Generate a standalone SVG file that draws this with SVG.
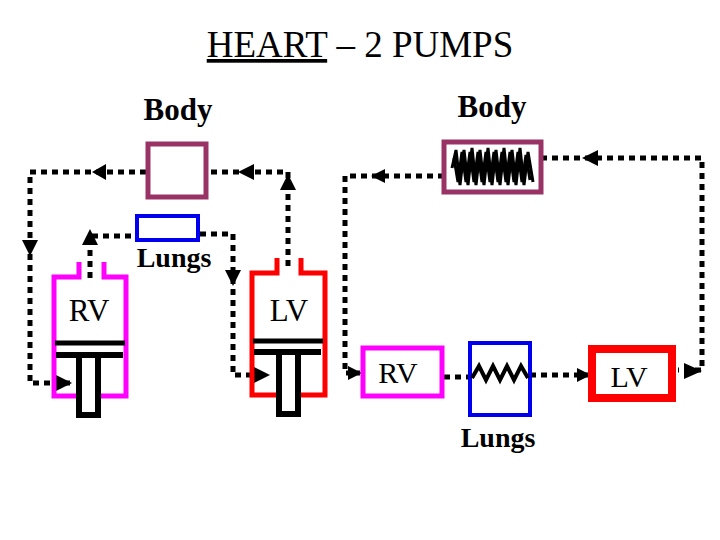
<svg xmlns="http://www.w3.org/2000/svg" width="720" height="540" viewBox="0 0 720 540">
<style>
text{font-family:"Liberation Serif","Times New Roman",serif;fill:#000}
.b{font-weight:bold}
.d{fill:none;stroke:#000;stroke-width:5;stroke-dasharray:6,5}
.ah{fill:#000}
.body{fill:#fff;stroke:#993366;stroke-width:5}
.lung{fill:#fff;stroke:#0000ee;stroke-width:4}
.pis{fill:none;stroke:#000;stroke-width:6}
.zz{fill:none;stroke:#000;stroke-width:3}
</style>
<rect width="720" height="540" fill="#fff"/>
<g id="title"><text x="360" y="57" font-size="37" text-anchor="middle"><tspan text-decoration="underline">HEART</tspan> – 2 PUMPS</text></g>
<g id="connectors">
<polyline class="d" points="146,172 30,172 30,383 70,383"/>
<polyline class="d" points="90,278 90,236 137,236"/>
<polyline class="d" points="200,234 233,234 233,375 266,375"/>
<polyline class="d" points="288,266 288,172 208,172"/>
<polyline class="d" points="444,176 345,176 345,373 360,373"/>
<polyline class="d" points="541,158 702,158 702,370 678,370"/>
<polyline class="d" points="444,377 472,377"/>
<polyline class="d" points="530,375 588,375"/>
<polygon class="ah" points="92,172 106,164 106,180"/>
<polygon class="ah" points="30,256 22,240 38,240"/>
<polygon class="ah" points="72,383 56,375 56,391"/>
<polygon class="ah" points="90,229 82,245 98,245"/>
<polygon class="ah" points="233,286 225,270 241,270"/>
<polygon class="ah" points="270,375 254,367 254,383"/>
<polygon class="ah" points="288,174 280,190 296,190"/>
<polygon class="ah" points="238,172 254,164 254,180"/>
<polygon class="ah" points="371,176 385,169 385,183"/>
<polygon class="ah" points="362,373 348,366 348,380"/>
<polygon class="ah" points="582,158 598,150 598,166"/>
<polygon class="ah" points="702,371 684,363 684,379"/>
<polygon class="ah" points="591,375 577,368 577,382"/>
</g>
<g id="body1"><rect class="body" x="148" y="144" width="58" height="53"/><text class="b" x="178" y="120" font-size="31" text-anchor="middle">Body</text></g>
<g id="lungs1"><rect class="lung" x="137" y="216" width="61" height="24"/><text class="b" x="174" y="267" font-size="28" text-anchor="middle">Lungs</text></g>
<g id="rv1">
<path d="M79,262 V277 H54 V396 H77 M100,396 H126 V277 H104 V262" fill="none" stroke="#ff00ff" stroke-width="5"/>
<line x1="55" y1="343" x2="125" y2="343" stroke="#000" stroke-width="5"/>
<path class="pis" d="M56,355 H123 M79,355 V415 H98 V355"/>
<text x="89" y="321" font-size="31" text-anchor="middle">RV</text>
</g>
<g id="lv1">
<path d="M277,258 V273 H252 V395 H277 M300,395 H325 V273 H301 V258" fill="none" stroke="#ff0000" stroke-width="5"/>
<line x1="253" y1="341" x2="323" y2="341" stroke="#000" stroke-width="5"/>
<path class="pis" d="M254,352 H321 M279,352 V414 H298 V352"/>
<text x="289" y="321" font-size="31" text-anchor="middle">LV</text>
</g>
<g id="body2"><rect class="body" x="444" y="142" width="97" height="50"/>
<path class="zz" d="M452,168 L456,150 L460,185 L464,150 L468,185 L472,148 L476,185 L480,150 L484,185 L488,148 L492,185 L496,150 L500,185 L504,148 L508,185 L512,150 L516,185 L520,148 L524,185 L528,152 L533,182"/>
<path class="zz" d="M454,158 L458,182 L462,152 L466,182 L470,152 L474,182 L478,152 L482,182 L486,152 L490,182 L494,152 L498,182 L502,152 L506,182 L510,152 L514,182 L518,152 L522,182 L526,155 L530,180"/>
<text class="b" x="492" y="117" font-size="31" text-anchor="middle">Body</text></g>
<g id="rv2"><rect x="363" y="348" width="79" height="48" fill="#fff" stroke="#ff00ff" stroke-width="5"/><text x="398" y="383" font-size="30" text-anchor="middle">RV</text></g>
<g id="lungs2"><rect class="lung" x="470" y="343" width="60" height="72"/>
<path fill="none" stroke="#000" stroke-width="4" d="M472,378 L479,366 L486,380 L493,366 L500,380 L507,366 L514,380 L521,366 L528,378"/>
<text class="b" x="498" y="447" font-size="28" text-anchor="middle">Lungs</text></g>
<g id="lv2"><rect x="592" y="349" width="80" height="49" fill="#fff" stroke="#ff0000" stroke-width="8"/><text x="629" y="387" font-size="30" text-anchor="middle">LV</text></g>
</svg>
